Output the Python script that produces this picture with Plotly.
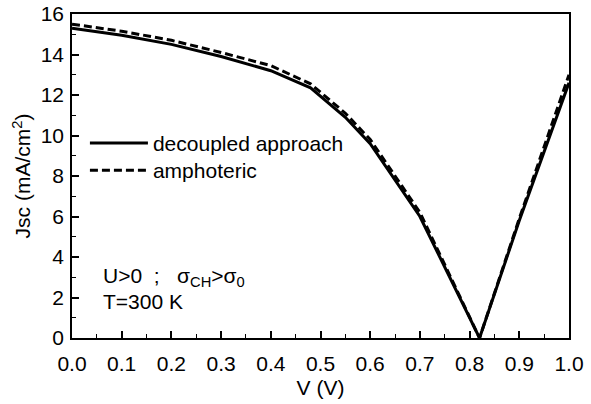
import plotly.graph_objects as go

V = [0.0, 0.1, 0.2, 0.3, 0.4, 0.48, 0.55, 0.6, 0.7, 0.82, 0.9, 1.0]
J_decoupled = [15.3, 14.95, 14.5, 13.9, 13.2, 12.35, 10.9, 9.6, 6.0, 0.0, 5.8, 12.6]
J_amphoteric = [15.5, 15.15, 14.7, 14.1, 13.45, 12.55, 11.1, 9.8, 6.2, 0.0, 5.9, 13.0]

x_ticks = [0.0, 0.1, 0.2, 0.3, 0.4, 0.5, 0.6, 0.7, 0.8, 0.9, 1.0]
x_tick_labels = ["0.0", "0.1", "0.2", "0.3", "0.4", "0.5", "0.6", "0.7", "0.8", "0.9", "1.0"]
y_ticks = [0, 2, 4, 6, 8, 10, 12, 14, 16]

FONT = "Liberation Sans, Arial, sans-serif"
FS = 21

fig = go.Figure()
fig.add_trace(go.Scatter(x=V, y=J_decoupled, mode="lines", name="decoupled approach",
                         line=dict(color="black", width=3), legend="legend"))
fig.add_trace(go.Scatter(x=V, y=J_amphoteric, mode="lines", name="amphoteric",
                         line=dict(color="black", width=3, dash="8px,4px"), legend="legend2"))

axis_common = dict(showgrid=False, zeroline=False, showline=True, linecolor="black",
                   linewidth=1.5, mirror=True, ticks="inside", tickcolor="black",
                   tickwidth=1.5, ticklen=7, automargin=False,
                   tickfont=dict(family=FONT, size=FS, color="black"))

fig.update_xaxes(range=[0, 1], tickvals=x_ticks, ticktext=x_tick_labels, ticklabelstandoff=6,
                 minor=dict(ticks="inside", ticklen=4, tickwidth=1.2, tickcolor="black", dtick=0.05),
                 title=dict(text="V (V)", font=dict(family=FONT, size=FS, color="black"), standoff=6),
                 **axis_common)
fig.update_yaxes(range=[0, 16], tickvals=y_ticks, ticklabelstandoff=2,
                 minor=dict(ticks="inside", ticklen=4, tickwidth=1.2, tickcolor="black", dtick=1),
                 title=dict(text="Jsc (mA/cm<sup>2</sup>)", font=dict(family=FONT, size=FS, color="black"), standoff=4),
                 **axis_common)

fig.add_annotation(x=0.058, y=3.0, xref="x", yref="y", xanchor="left", yanchor="middle",
                   text="U>0  ;   σ<sub>CH</sub>>σ<sub>0</sub>", showarrow=False,
                   font=dict(family=FONT, size=FS, color="black"))
fig.add_annotation(x=0.058, y=1.8, xref="x", yref="y", xanchor="left", yanchor="middle",
                   text="T=300 K", showarrow=False,
                   font=dict(family=FONT, size=FS, color="black"))

legend_common = dict(xanchor="left", yanchor="top", bgcolor="rgba(0,0,0,0)",
                     font=dict(family=FONT, size=FS, color="black"), itemwidth=58)

fig.update_layout(
    width=591, height=404,
    margin=dict(l=72, r=22, t=14, b=66),
    plot_bgcolor="white", paper_bgcolor="white",
    showlegend=True,
    legend=dict(x=0.026, y=0.664, **legend_common),
    legend2=dict(x=0.026, y=0.58, **legend_common),
)

fig.write_html("out.html")
